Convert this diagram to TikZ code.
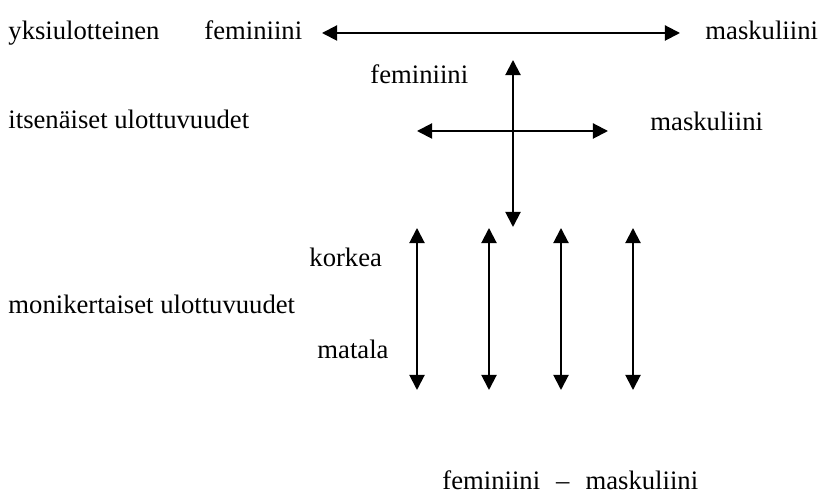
\documentclass[tikz,border=0pt]{standalone}
\usepackage{fontspec}
\setmainfont{Liberation Serif}
\usetikzlibrary{arrows.meta,positioning}
\tikzset{
   every path/.style={>={Triangle[length=6.8pt,width=6.8pt]}},
   dim/.style={<->,line width=0.9pt},
   lbl/.style={anchor=base west,inner sep=0pt,font=\fontsize{12}{14}\selectfont},
}
\begin{document}
\begin{tikzpicture}[x=0.45pt,y=-0.45pt]
  \useasboundingbox (0,0) rectangle (819,496);

  % yksiulotteinen
  \node [lbl] (yks) at (8,40) {yksiulotteinen};
  \node [lbl] (fem1) at (204,40) {feminiini};
  \node [lbl] (mas1) at (705,40) {maskuliini};
  \coordinate (h1l) at (322,33);
  \coordinate (h1r) at (680,33);
  \draw [dim] (h1l) -- (h1r);

  % itsenaiset
  \node [lbl] (fem2) at (370,84) {feminiini};
  \node [lbl] (its) at (8,129) {itsenäiset ulottuvuudet};
  \node [lbl] (mas2) at (650,131) {maskuliini};
  \coordinate (vt) at (513,60);
  \coordinate (vb) at (513,227);
  \coordinate (hl) at (417,131);
  \coordinate (hr) at (608,131);
  \draw [dim] (vt) -- (vb);
  \draw [dim] (hl) -- (hr);

  % monikertaiset
  \node [lbl] (kor) at (309,267) {korkea};
  \node [lbl] (mon) at (8,314) {monikertaiset ulottuvuudet};
  \node [lbl] (mat) at (317,359) {matala};
  \foreach \x [count=\i] in {417,489,561,633} {
    \coordinate (t\i) at (\x,228);
    \coordinate (b\i) at (\x,390);
    \draw [dim] (t\i) -- (b\i);
  }

  \node [lbl] (fm) at (442,490) {feminiini\hspace{0.6em}–\hspace{0.6em}maskuliini};
\end{tikzpicture}
\end{document}
